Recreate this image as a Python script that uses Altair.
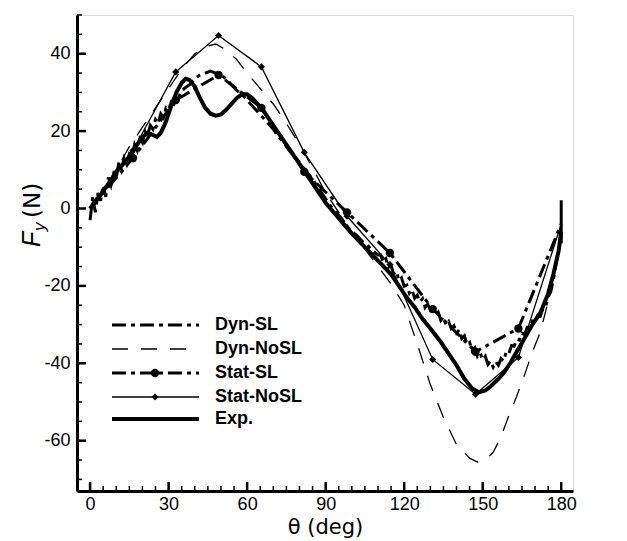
import altair as alt
import pandas as pd

# ---------------- data ----------------
# Dyn-SL: noisy dynamic curve with stall model
dynsl_theta = (list(range(0, 37)) + list(range(38, 111, 2)) + list(range(111, 181))
               + [180, 180, 180])
dynsl_F = [
    -3, 3, -1, 4, 2, 6, 3, 8, 6, 9, 8, 12, 10, 13, 11.5, 14, 13, 16.5, 15, 18,
    17, 20, 19, 21.5, 20.5, 23, 22, 24.5, 23.5, 26, 25.5, 27.5, 27, 29, 29, 30.5, 31,
    # 38..110 step 2
    32, 33.5, 34.5, 35, 35.5, 35, 34.5, 33.5, 32, 30.5, 29.5, 28, 26.5, 25, 23.5,
    22, 20.5, 18.5, 17, 15, 13.5, 12, 10, 8.5, 6.5, 4.5, 2.5, 0.5, -1, -2.5, -4.5,
    -6, -7, -8.5, -9.5, -11, -12,
    # 111..180 step 1
    -12.0, -13.8, -13.0, -15.2, -14.8, -16.9, -16.2, -18.6, -17.9, -20.1,
    -19.8, -21.9, -21.0, -23.2, -22.4, -24.1, -23.3, -25.6, -24.7, -26.2,
    -25.4, -27.5, -26.8, -28.9, -28.0, -30.1, -29.2, -31.0, -30.3, -32.2,
    -31.4, -33.6, -32.9, -35.1, -34.6, -36.8, -36.0, -38.2, -37.3, -39.1,
    -38.2, -40.3, -39.4, -41.0, -39.6, -40.5, -38.8, -39.4, -37.0, -37.5,
    -35.4, -35.6, -33.8, -34.0, -32.2, -32.6, -30.7, -30.9, -29.1, -29.4,
    -27.6, -27.8, -25.9, -25.5, -22.8, -21.6, -18.4, -14.5, -10.8, -6.0,
    2.5, -9.0, -4.0,
]

# Dyn-NoSL: dynamic curve without stall model
dynnosl_theta = [0, 5, 10, 15, 20, 25, 30, 35, 40, 45, 48, 52, 56, 60, 65, 70, 75, 80,
                 85, 90, 95, 100, 105, 110, 115, 120, 125, 130, 135, 140, 145, 148,
                 151, 154, 157, 160, 163, 166, 169, 172, 175, 178, 180]
dynnosl_F = [0, 5, 10, 16, 21, 26, 31, 36, 40, 42, 42.5, 41, 38.5, 35, 31, 27, 22,
             16.5, 10.5, 4, -1, -6, -10.5, -15, -19.5, -25, -35, -45.5, -54, -61,
             -64.5, -65.5, -65, -63, -59, -53.5, -48.5, -43, -37, -32, -24, -14, -7]

# Static models, sampled every 180/11 degrees
stat_theta = [k * 180 / 11 for k in range(12)]
statsl_F = [0, 13, 28, 34.5, 26, 9.5, -1, -11.5, -26, -37, -31, -4]
statnosl_F = [0, 15, 35.3, 44.7, 36.6, 14.5, -2, -14.5, -39, -48, -38.5, -4]

# Experiment
exp_theta = [0, 2, 4, 6, 8, 10, 12, 14, 16, 18, 20, 22, 24, 25.5, 27, 29, 31, 33, 35,
             36.5, 38, 40, 42, 44, 46, 48, 50, 52, 54, 56, 58, 60, 62, 64, 66, 70, 75,
             80, 85, 90, 95, 100, 105, 110, 115, 118, 121, 124, 127, 130, 134, 137,
             140, 143, 146, 148.5, 151, 153, 156, 158, 160.5, 163, 166, 169, 172, 175,
             177, 179, 180]
exp_F = [0, 2, 3.5, 5.5, 7, 9.5, 11, 12.5, 14.5, 16.5, 18.5, 19.5, 19, 18.5, 19.5,
         22.5, 26.5, 30, 32.5, 33.5, 33.2, 31.5, 28.5, 26, 24.5, 24, 24.3, 25.5, 27,
         28.5, 29.5, 29.5, 28.5, 27, 25.5, 21.5, 16.5, 11.5, 6.5, 1.5, -2.5, -6.5, -10,
         -13.5, -17, -20, -23, -25.5, -28.5, -31, -34.5, -37.5, -40.5, -44, -46.5,
         -47.5, -47, -46, -44, -42.5, -40, -37, -33.5, -30, -27, -22, -17, -11, -6]

# axes
x_major = [0, 30, 60, 90, 120, 150, 180]
x_minor = [v for v in range(0, 181, 5) if v % 30 != 0]
y_major = [-60, -40, -20, 0, 20, 40]
y_minor = [v for v in range(-70, 51, 5) if v % 20 != 0]

legend_names = ["Dyn-SL", "Dyn-NoSL", "Stat-SL", "Stat-NoSL", "Exp."]

# ---------------- chart ----------------
W, H = 496, 476
xs = alt.Scale(domain=[-5, 184.5], nice=False, zero=False)
ys = alt.Scale(domain=[-73, 50], nice=False, zero=False)

xaxis = alt.Axis(values=x_major, ticks=False, grid=False, domainWidth=3,
                 domainColor="black", labelFontSize=18, labelFont="Liberation Sans",
                 labelColor="black", labelPadding=4, labelExpr="'' + datum.value",
                 title="θ (deg)",
                 titleFont="DejaVu Sans", titleFontSize=21, titleFontWeight="normal",
                 titleColor="black", titlePadding=3)
yaxis = alt.Axis(values=y_major, ticks=False, grid=False, domainWidth=3,
                 domainColor="black", labelFontSize=18, labelFont="Liberation Sans",
                 labelColor="black", labelPadding=7, labelExpr="'' + datum.value",
                 title=None)


def X():
    return alt.X("theta:Q", scale=xs, axis=xaxis)


def Y():
    return alt.Y("F:Q", scale=ys, axis=yaxis)


def series(theta, f, width, dash=None):
    df = pd.DataFrame({"theta": theta, "F": f, "i": list(range(len(theta)))})
    kw = dict(color="black", strokeWidth=width, clip=True)
    if dash is not None:
        kw["strokeDash"] = dash
    return alt.Chart(df).mark_line(**kw).encode(x=X(), y=Y(), order="i:Q")


DASHDOT = [14, 5, 4, 5]
layers = []
layers.append(series(dynnosl_theta, dynnosl_F, 1.3, [16, 13]))
layers.append(series(stat_theta, statnosl_F, 1.3))
layers.append(series(stat_theta, statsl_F, 3, DASHDOT))
layers.append(series(dynsl_theta, dynsl_F, 3, DASHDOT))
layers.append(series(exp_theta, exp_F, 4))

# markers (end points are hidden under the curves in the reference)
st_nosl = pd.DataFrame({"theta": stat_theta[1:-1], "F": statnosl_F[1:-1]})
st_sl = pd.DataFrame({"theta": stat_theta[1:-1], "F": statsl_F[1:-1]})
layers.append(alt.Chart(st_nosl).mark_point(shape="diamond", filled=True, color="black",
                                            size=50, opacity=1).encode(x=X(), y=Y()))
layers.append(alt.Chart(st_sl).mark_point(shape="circle", filled=True, color="black",
                                          size=70, opacity=1).encode(x=X(), y=Y()))

# inward tick marks
for vals, length, w in [(x_major, 9, 2.5), (x_minor, 5, 1.5)]:
    layers.append(alt.Chart(pd.DataFrame({"theta": vals})).mark_rule(
        color="black", strokeWidth=w).encode(x=X(), y=alt.value(H), y2=alt.value(H - length)))
for vals, length, w in [(y_major, 9, 2.5), (y_minor, 5, 1.5)]:
    layers.append(alt.Chart(pd.DataFrame({"F": vals})).mark_rule(
        color="black", strokeWidth=w).encode(y=Y(), x=alt.value(0), x2=alt.value(length)))

# y-axis title F_y (N)
one = pd.DataFrame({"a": [0]})
layers.append(alt.Chart(one).mark_text(angle=270, align="left", baseline="alphabetic",
                                       font="Liberation Sans", fontStyle="italic",
                                       fontSize=25, color="black").encode(
    x=alt.value(-37), y=alt.value(232), text=alt.value("F")))
layers.append(alt.Chart(one).mark_text(angle=270, align="left", baseline="alphabetic",
                                       font="Liberation Sans", fontStyle="italic",
                                       fontSize=17, color="black").encode(
    x=alt.value(-32), y=alt.value(216), text=alt.value("y")))
layers.append(alt.Chart(one).mark_text(angle=270, align="left", baseline="alphabetic",
                                       font="DejaVu Sans", fontSize=23,
                                       color="black").encode(
    x=alt.value(-37), y=alt.value(203), text=alt.value("(N)")))

# legend
LX1, LX2, LMID, LTX = 35, 122, 78, 138
rows = [310, 334, 358, 382, 404]
styles = [(3, DASHDOT), (1.3, [16, 13]), (3, DASHDOT), (1.3, None), (4, None)]
for name, ry, (w, dash) in zip(legend_names, rows, styles):
    kw = dict(color="black", strokeWidth=w)
    if dash is not None:
        kw["strokeDash"] = dash
    layers.append(alt.Chart(one).mark_rule(**kw).encode(
        x=alt.value(LX1), x2=alt.value(LX2), y=alt.value(ry)))
    layers.append(alt.Chart(one).mark_text(align="left", baseline="middle",
                                           font="Liberation Sans", fontWeight="bold",
                                           fontSize=18, color="black").encode(
        x=alt.value(LTX), y=alt.value(ry), text=alt.value(name)))
layers.append(alt.Chart(one).mark_point(shape="circle", filled=True, color="black",
                                        size=70, opacity=1).encode(
    x=alt.value(LMID), y=alt.value(rows[2])))
layers.append(alt.Chart(one).mark_point(shape="diamond", filled=True, color="black",
                                        size=50, opacity=1).encode(
    x=alt.value(LMID), y=alt.value(rows[3])))

chart = alt.layer(*layers).properties(
    width=W, height=H,
    autosize=alt.AutoSizeParams(type="none"),
    padding={"left": 69, "top": 7, "right": 10, "bottom": 50},
).configure_view(stroke=None).configure(background="white")

chart.save("out.html", embed_options={"renderer": "svg", "actions": False})
